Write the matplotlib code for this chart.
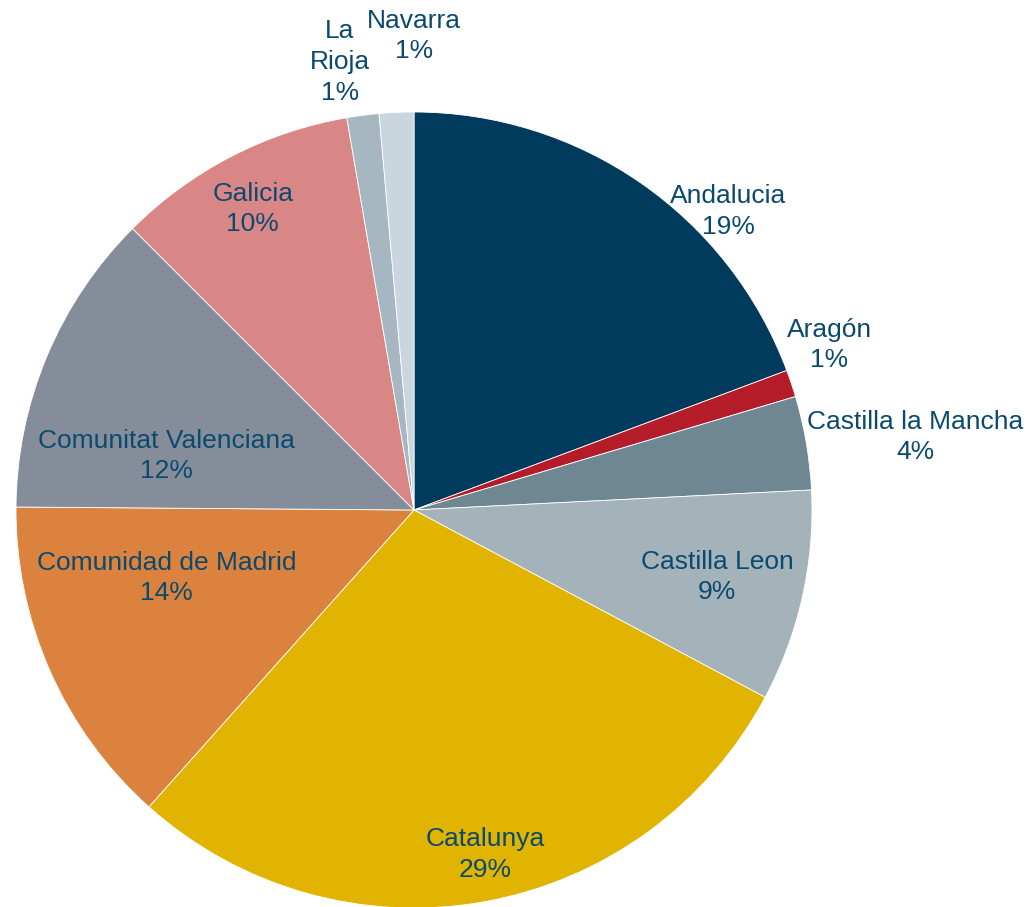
import matplotlib.pyplot as plt

plt.rcParams['font.family'] = ['Liberation Sans', 'DejaVu Sans']

regions = ['Andalucia', 'Aragón', 'Castilla la Mancha', 'Castilla Leon', 'Catalunya',
           'Comunidad de Madrid', 'Comunitat Valenciana', 'Galicia', 'La\nRioja', 'Navarra']
shares = [19.3, 1.1, 3.8, 8.6, 28.8, 13.52, 12.38, 9.8, 1.3, 1.4]
colors = ['#003A5C', '#B51C2A', '#6F8793', '#A4B2BA', '#E0B400',
          '#DB823F', '#858D9A', '#D98686', '#A7B7C2', '#CAD6DD']

# label centres, in units of the pie radius
label_pos = [(0.79, 0.75), (1.043, 0.415), (1.259, 0.183), (0.761, -0.168), (0.178, -0.865),
             (-0.621, -0.171), (-0.621, 0.136), (-0.405, 0.756), (-0.186, 1.126), (0.0, 1.191)]

W, H = 1028, 907
cx, cy, R = 414, 510, 398

fig = plt.figure(figsize=(W / 100, H / 100), dpi=100)
ax = fig.add_axes([0, 0, 1, 1])

wedges, _ = ax.pie(shares, colors=colors, startangle=90, counterclock=False,
                   radius=1, wedgeprops=dict(edgecolor='white', linewidth=0.6))

total = sum(shares)
for name, v, (x, y) in zip(regions, shares, label_pos):
    ax.text(x, y, f'{name}\n{round(v / total * 100):.0f}%', ha='center', va='center',
            fontsize=19, color='#0B4A6F', linespacing=1.35)

ax.set_xlim(-cx / R, (W - cx) / R)
ax.set_ylim(-(H - cy) / R, cy / R)
ax.set_aspect('equal')
ax.axis('off')

fig.savefig('out.png', dpi=100)
